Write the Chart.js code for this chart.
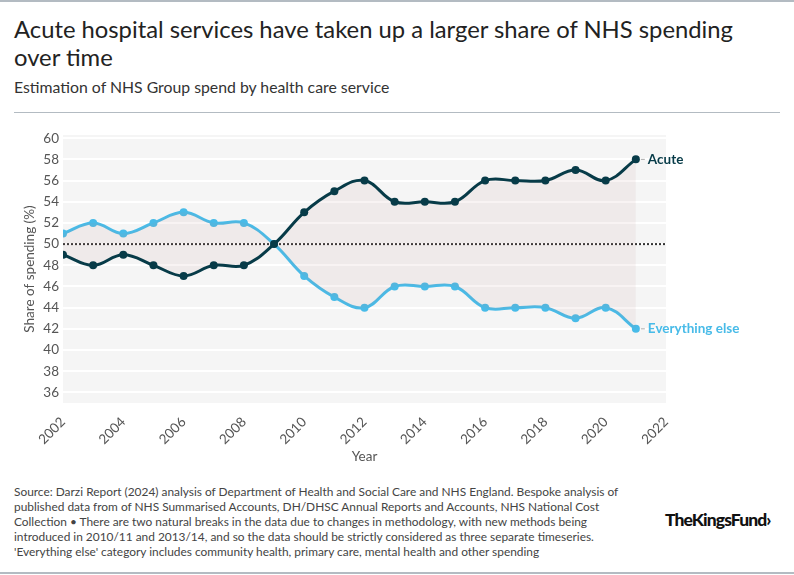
<!DOCTYPE html>
<html>
<head>
<meta charset="utf-8">
<script src="https://cdn.jsdelivr.net/npm/chart.js@4.4.1/dist/chart.umd.min.js"></script>
<style>
  body { margin: 0; width: 794px; height: 575px; overflow: hidden; background: #fff; position: relative; font-family: Lato, 'Noto Sans', sans-serif; }
  .rule { position: absolute; background: #b3bbc2; }
  h1 { position: absolute; left: 14px; top: 15px; margin: 0; width: 780px; font-size: 23.8px; line-height: 28px; font-weight: 400; color: #222; }
  h2 { position: absolute; left: 14px; top: 78px; margin: 0; font-size: 15.8px; line-height: 18px; font-weight: 400; color: #333; }
  #wrap { position: absolute; left: 0; top: 120px; width: 794px; height: 350px; }
  .source { position: absolute; left: 14px; top: 484px; margin: 0; font-size: 11.9px; line-height: 15px; color: #444; }
  .logo { position: absolute; left: 665px; top: 509px; font-size: 17.5px; font-weight: 900; letter-spacing: -0.9px; color: #111; }
</style>
</head>
<body>
<div class="rule" style="left:0;top:0;width:794px;height:2px"></div>
<h1>Acute hospital services have taken up a larger share of NHS spending<br>over time</h1>
<h2>Estimation of NHS Group spend by health care service</h2>
<div class="rule" style="left:14px;top:112px;width:766px;height:1px"></div>
<div id="wrap"><canvas id="chart" width="794" height="350"></canvas></div>
<p class="source">Source: Darzi Report (2024) analysis of Department of Health and Social Care and NHS England. Bespoke analysis of<br>published data from of NHS Summarised Accounts, DH/DHSC Annual Reports and Accounts, NHS National Cost<br>Collection • There are two natural breaks in the data due to changes in methodology, with new methods being<br>introduced in 2010/11 and 2013/14, and so the data should be strictly considered as three separate timeseries.<br>'Everything else' category includes community health, primary care, mental health and other spending</p>
<div class="logo">TheKingsFund&#8250;</div>
<div class="rule" style="left:0;top:572px;width:794px;height:2px"></div>
<script>
(function () {
  'use strict'

  var years = [2002, 2003, 2004, 2005, 2006, 2007, 2008, 2009, 2010, 2011,
    2012, 2013, 2014, 2015, 2016, 2017, 2018, 2019, 2020, 2021]
  var acute = [49, 48, 49, 48, 47, 48, 48, 50, 53, 55, 56, 54, 54, 54, 56, 56, 56, 57, 56, 58]
  var everythingElse = [51, 52, 51, 52, 53, 52, 52, 50, 47, 45, 44, 46, 46, 46, 44, 44, 44, 43, 44, 42]
  var parityYears = [2002, 2022]
  var parity = [50, 50]
  var yTicks = [36, 38, 40, 42, 44, 46, 48, 50, 52, 54, 56, 58, 60]

  var acuteColor = '#073b48'
  var elseColor = '#48bbe8'

  function points (xs, ys) {
    return xs.map(function (x, i) { return { x: x, y: ys[i] } })
  }

  // grey panel behind the plot
  var panel = {
    id: 'panel',
    beforeDraw: function (chart) {
      var a = chart.chartArea
      var ctx = chart.ctx
      ctx.save()
      ctx.fillStyle = '#f5f5f5'
      ctx.fillRect(a.left, a.top, a.right - a.left, a.bottom - a.top)
      ctx.restore()
    }
  }

  // labels at the end of each line
  var endLabels = {
    id: 'endLabels',
    afterDatasetsDraw: function (chart) {
      var ctx = chart.ctx
      ;[0, 1].forEach(function (i) {
        var ds = chart.data.datasets[i]
        var pts = chart.getDatasetMeta(i).data
        var p = pts[pts.length - 1]
        ctx.save()
        ctx.strokeStyle = '#aaaaaa'
        ctx.lineWidth = 1
        ctx.beginPath()
        ctx.moveTo(p.x + 5, p.y)
        ctx.lineTo(p.x + 9, p.y)
        ctx.stroke()
        ctx.fillStyle = ds.borderColor
        ctx.font = 'bold 13.5px Lato, "Noto Sans", sans-serif'
        ctx.textBaseline = 'middle'
        ctx.fillText(ds.label, p.x + 12, p.y)
        ctx.restore()
      })
    }
  }

  var data = {
    datasets: [{
      label: 'Acute',
      data: points(years, acute),
      borderColor: acuteColor,
      pointBackgroundColor: acuteColor,
      backgroundColor: 'rgba(190, 140, 140, 0.1)',
      fill: 1,
      borderWidth: 3,
      pointRadius: 4,
      pointBorderWidth: 0,
      tension: 0.4
    }, {
      label: 'Everything else',
      data: points(years, everythingElse),
      borderColor: elseColor,
      pointBackgroundColor: elseColor,
      fill: false,
      borderWidth: 3,
      pointRadius: 4,
      pointBorderWidth: 0,
      tension: 0.4
    }, {
      label: 'parity',
      data: points(parityYears, parity),
      borderColor: '#333333',
      borderWidth: 2,
      borderDash: [2, 2],
      pointRadius: 0,
      fill: false,
      order: 5
    }]
  }

  var tickFont = { family: 'Lato, "Noto Sans", sans-serif', size: 13.5 }

  var options = {
    responsive: false,
    animation: false,
    layout: { padding: { left: 0, right: 128, top: 15, bottom: 0 } },
    plugins: {
      legend: { display: false },
      tooltip: { enabled: false }
    },
    scales: {
      x: {
        type: 'linear',
        min: 2002,
        max: 2022,
        grid: { display: false },
        border: { display: false },
        ticks: {
          stepSize: 2,
          minRotation: 45,
          maxRotation: 45,
          padding: 3,
          color: '#555',
          font: tickFont,
          callback: function (v) { return String(v) }
        },
        title: { display: true, text: 'Year', color: '#555', font: tickFont, padding: { top: 0, bottom: 5 } },
        afterFit: function (s) { s.height = 67 }
      },
      y: {
        min: 35,
        max: 60.3,
        grid: { color: '#ffffff', lineWidth: 2, drawTicks: false },
        border: { display: false },
        ticks: { padding: 4, color: '#555', font: tickFont },
        afterBuildTicks: function (s) {
          s.ticks = yTicks.map(function (v) { return { value: v } })
        },
        title: { display: true, text: 'Share of spending (%)', color: '#555', font: tickFont, padding: { top: 22, bottom: 0 } },
        afterFit: function (s) { s.width = 63 }
      }
    }
  }

  new Chart(document.getElementById('chart'), {
    type: 'line',
    data: data,
    options: options,
    plugins: [panel, endLabels]
  })
})()
</script>
</body>
</html>
